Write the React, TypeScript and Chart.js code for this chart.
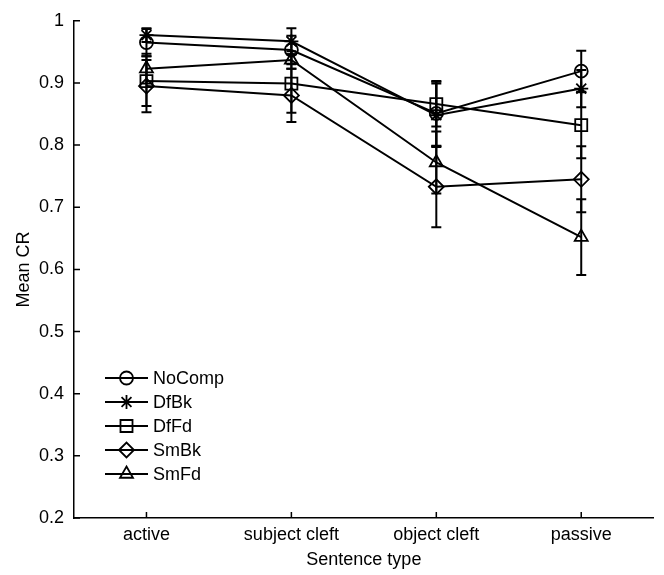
import React, { useEffect, useRef } from 'react';
import { Chart, registerables } from 'chart.js';
import { drawPoint } from 'chart.js/helpers';

Chart.register(...registerables);

// ---- data ----
const categories = ['active', 'subject cleft', 'object cleft', 'passive'];
const seriesNames = ['NoComp', 'DfBk', 'DfFd', 'SmBk', 'SmFd'];
const seriesMarkers = ['circle', 'star', 'rect', 'rectRot', 'triangle'];

const noComp = [0.965, 0.953, 0.851, 0.919];
const noCompErr = [0.022, 0.023, 0.052, 0.033];
const dfBk = [0.977, 0.967, 0.848, 0.891];
const dfBkErr = [0.011, 0.021, 0.051, 0.030];
const dfFd = [0.903, 0.899, 0.866, 0.832];
const dfFdErr = [0.040, 0.047, 0.036, 0.053];
const smBk = [0.895, 0.880, 0.733, 0.745];
const smBkErr = [0.042, 0.043, 0.065, 0.053];
const smFd = [0.923, 0.937, 0.772, 0.652];
const smFdErr = [0.024, 0.014, 0.050, 0.061];

const yTicks = [0.2, 0.3, 0.4, 0.5, 0.6, 0.7, 0.8, 0.9, 1];
const yTickLabels = ['0.2', '0.3', '0.4', '0.5', '0.6', '0.7', '0.8', '0.9', '1'];

const xTitle = 'Sentence type';
const yTitle = 'Mean CR';

const seriesValues = [noComp, dfBk, dfFd, smBk, smFd];
const seriesErrors = [noCompErr, dfBkErr, dfFdErr, smBkErr, smFdErr];

// ---- styles ----
const FONT = '"Liberation Sans", Arial, Helvetica, sans-serif';
const FONT_SIZE = 18;
const INK = '#000000';
const markerRadius: Record<string, number> = {
  circle: 6.5,
  star: 7,
  rect: 8.5,
  rectRot: 7.5,
  triangle: 7.5,
};

const errorBarPlugin = {
  id: 'errorBars',
  beforeDatasetsDraw(chart: any) {
    const ctx = chart.ctx;
    const yScale = chart.scales.y;
    ctx.save();
    ctx.strokeStyle = INK;
    ctx.lineWidth = 2;
    chart.data.datasets.forEach((ds: any, di: number) => {
      const meta = chart.getDatasetMeta(di);
      const errs = seriesErrors[di];
      meta.data.forEach((pt: any, i: number) => {
        const v = ds.data[i];
        const x = pt.x;
        const yTop = yScale.getPixelForValue(v + errs[i]);
        const yBot = yScale.getPixelForValue(v - errs[i]);
        const cap = 5;
        ctx.beginPath();
        ctx.moveTo(x, yTop);
        ctx.lineTo(x, yBot);
        ctx.moveTo(x - cap, yTop);
        ctx.lineTo(x + cap, yTop);
        ctx.moveTo(x - cap, yBot);
        ctx.lineTo(x + cap, yBot);
        ctx.stroke();
      });
    });
    ctx.restore();
  },
};

const innerTicksPlugin = {
  id: 'innerTicks',
  afterDraw(chart: any) {
    const ctx = chart.ctx;
    const area = chart.chartArea;
    const xs = chart.scales.x;
    const ys = chart.scales.y;
    const len = 6;
    ctx.save();
    ctx.strokeStyle = INK;
    ctx.lineWidth = 1.5;
    ctx.beginPath();
    yTicks.forEach((t) => {
      const y = ys.getPixelForValue(t);
      ctx.moveTo(area.left, y);
      ctx.lineTo(area.left + len, y);
    });
    categories.forEach((_, i) => {
      const x = xs.getPixelForValue(i);
      ctx.moveTo(x, area.bottom);
      ctx.lineTo(x, area.bottom - len);
    });
    ctx.stroke();
    ctx.restore();
  },
};

const legendPlugin = {
  id: 'matlabLegend',
  afterDraw(chart: any) {
    const ctx = chart.ctx;
    const x0 = 105;
    const x1 = 148;
    const textX = 153;
    const top = 378;
    const step = 24;
    ctx.save();
    ctx.font = `${FONT_SIZE}px ${FONT}`;
    ctx.textBaseline = 'middle';
    ctx.textAlign = 'left';
    seriesNames.forEach((name, i) => {
      const y = top + i * step;
      ctx.strokeStyle = INK;
      ctx.lineWidth = 2;
      ctx.beginPath();
      ctx.moveTo(x0, y);
      ctx.lineTo(x1, y);
      ctx.stroke();
      ctx.fillStyle = 'rgba(0,0,0,0)';
      ctx.strokeStyle = INK;
      ctx.lineWidth = 1.8;
      drawPoint(ctx, {
        pointStyle: seriesMarkers[i],
        radius: markerRadius[seriesMarkers[i]],
        rotation: 0,
        borderWidth: 1.8,
      } as any, (x0 + x1) / 2, y);
      ctx.fillStyle = INK;
      ctx.fillText(name, textX, y + 1);
    });
    ctx.restore();
  },
};

export default function App() {
  const canvasRef = useRef<HTMLCanvasElement | null>(null);

  useEffect(() => {
    const canvas = canvasRef.current;
    if (!canvas) return;
    const datasets = seriesNames.map((name, i) => ({
      label: name,
      data: seriesValues[i],
      borderColor: INK,
      borderWidth: 2,
      backgroundColor: 'rgba(0,0,0,0)',
      pointStyle: seriesMarkers[i],
      pointRadius: markerRadius[seriesMarkers[i]],
      pointBorderColor: INK,
      pointBackgroundColor: 'rgba(0,0,0,0)',
      pointBorderWidth: 1.8,
      tension: 0,
      fill: false,
    }));
    const chart = new Chart(canvas, {
      type: 'line',
      data: { labels: categories, datasets },
      options: {
        animation: false,
        responsive: false,
        maintainAspectRatio: false,
        layout: { padding: { top: 15, right: 0, left: 0, bottom: 0 } },
        plugins: {
          legend: { display: false },
          tooltip: { enabled: false },
        },
        scales: {
          x: {
            type: 'category',
            offset: true,
            grid: { display: false, drawTicks: false },
            border: { display: true, color: INK, width: 1.5 },
            ticks: {
              color: INK,
              font: { family: FONT, size: FONT_SIZE },
              padding: 6,
              maxRotation: 0,
              autoSkip: false,
            },
            title: {
              display: true,
              text: xTitle,
              color: INK,
              font: { family: FONT, size: FONT_SIZE },
              padding: { top: 0, bottom: 4 },
            },
            afterFit: (s: any) => { s.height = 57; },
          },
          y: {
            type: 'linear',
            min: 0.2,
            max: 1,
            grid: { display: false, drawTicks: false },
            border: { display: true, color: INK, width: 1.5 },
            afterBuildTicks: (s: any) => { s.ticks = yTicks.map((v) => ({ value: v })); },
            ticks: {
              color: INK,
              font: { family: FONT, size: FONT_SIZE },
              padding: 10,
              callback: (v: any) => {
                const idx = yTicks.findIndex((t) => Math.abs(t - Number(v)) < 1e-9);
                return idx >= 0 ? yTickLabels[idx] : '';
              },
            },
            title: {
              display: true,
              text: yTitle,
              color: INK,
              font: { family: FONT, size: FONT_SIZE },
              padding: { top: 13, bottom: 0 },
            },
            afterFit: (s: any) => { s.width = 74; },
          },
        },
      },
      plugins: [errorBarPlugin, innerTicksPlugin, legendPlugin],
    });
    return () => chart.destroy();
  }, []);

  return (
    <div style={{ position: 'absolute', left: 0, top: 0, width: 664, height: 575, background: '#fff' }}>
      <canvas ref={canvasRef} width={664} height={575} style={{ display: 'block', width: 664, height: 575 }} />
    </div>
  );
}
